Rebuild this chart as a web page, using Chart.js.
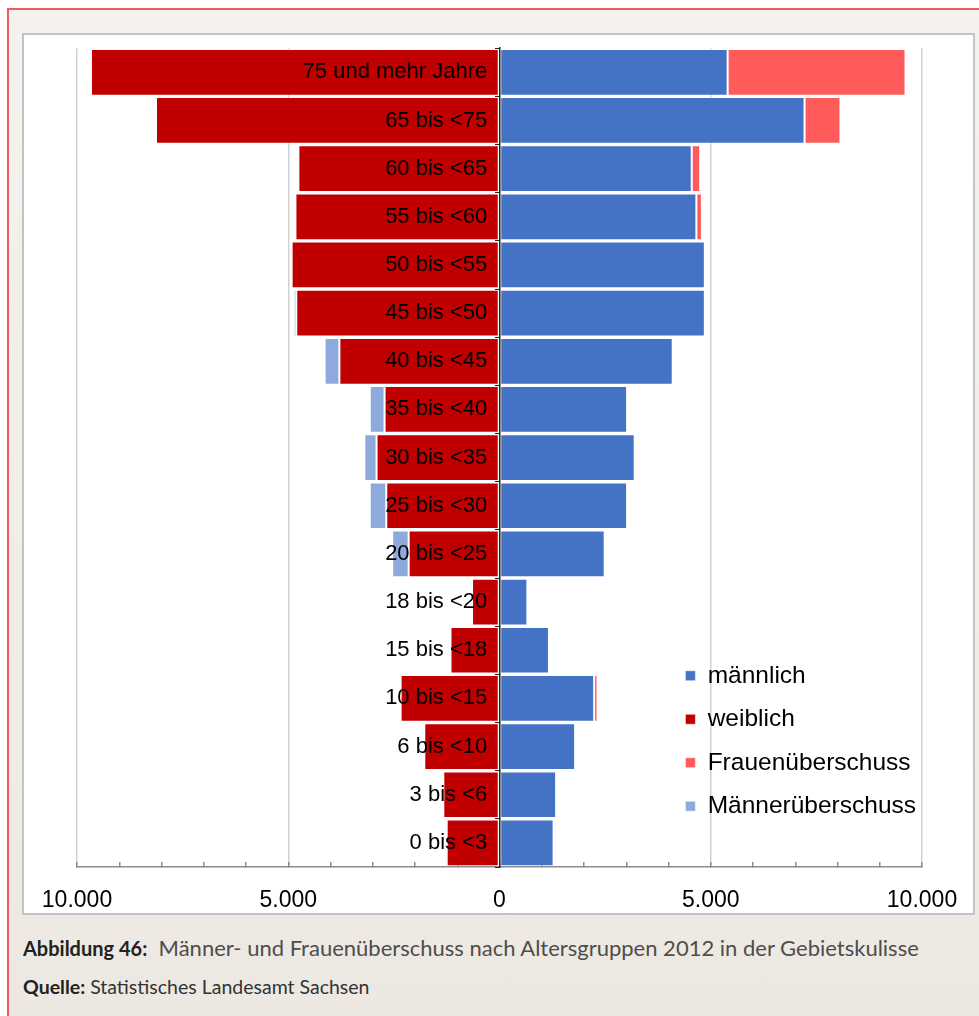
<!DOCTYPE html>
<html lang="de">
<head>
<meta charset="utf-8">
<title>Männer- und Frauenüberschuss 2012</title>
<script src="https://cdn.jsdelivr.net/npm/chart.js@4.4.1/dist/chart.umd.min.js"></script>
<style>
  html, body { margin: 0; padding: 0; }
  body {
    width: 979px; height: 1016px; overflow: hidden; position: relative;
    background: #ffffff;
  }
  .frame {
    position: absolute; left: 7px; top: 8px; width: 1000px; height: 1040px;
    border: 2px solid #f25a5a;
    background: linear-gradient(180deg, #f4f2ee 0%, #f0ede7 60%, #ece8e1 100%);
  }
  .box {
    position: absolute; left: 22px; top: 33px; width: 949px; height: 878px;
    border: 2px solid #c3c3c3; background: #fff;
  }
  .caption {
    position: absolute; left: 23px; top: 934px;
    font-family: Lato, "Open Sans", sans-serif; font-size: 22px; color: #4d4d4d;
    white-space: nowrap;
  }
  .caption b { color: #222; font-weight: 700; font-size: 20px; }
  .source {
    position: absolute; left: 23px; top: 975px;
    font-family: Lato, "Open Sans", sans-serif; font-size: 19.5px; color: #333;
    white-space: nowrap;
  }
  .source b { color: #222; font-weight: 700; font-size: 19.5px; }
</style>
</head>
<body>
<div class="frame"></div>
<div class="box"><canvas id="pyramide" width="949" height="878"></canvas></div>
<div class="caption"><b>Abbildung 46:</b>&nbsp; Männer- und Frauenüberschuss nach Altersgruppen 2012 in der Gebietskulisse</div>
<div class="source"><b>Quelle:</b> Statistisches Landesamt Sachsen</div>

<script>
// Altersgruppen (von oben nach unten)
const altersgruppen = ["75 und mehr Jahre", "65 bis <75", "60 bis <65", "55 bis <60", "50 bis <55",
    "45 bis <50", "40 bis <45", "35 bis <40", "30 bis <35", "25 bis <30", "20 bis <25",
    "18 bis <20", "15 bis <18", "10 bis <15", "6 bis <10", "3 bis <6", "0 bis <3"];

// Personen je Altersgruppe
const maennlich = [5400, 7220, 4550, 4660, 4860, 4860, 4100, 3020, 3200, 3020, 2490, 660, 1170, 2240, 1790, 1340, 1280];
const weiblich = [9670, 8130, 4760, 4830, 4920, 4810, 3790, 2720, 2910, 2680, 2150, 650, 1160, 2340, 1780, 1330, 1250];
const frauenueberschuss = [4210, 850, 200, 130, 0, 0, 0, 0, 0, 0, 0, 0, 0, 80, 0, 0, 0];
const maennerueberschuss = [0, 0, 0, 0, 0, 60, 350, 350, 290, 390, 390, 0, 40, 0, 0, 0, 50];

// Achse
const achseMin = -10000;
const achseMax = 10000;

const fmt = v => String(Math.abs(v)).replace(/\B(?=(\d{3})+(?!\d))/g, ".");

// Legende in die Diagrammfläche schieben (unten rechts)
const legendePlatz = {
    id: "legendePlatz",
    afterLayout(chart) {
        const lg = chart.legend;
        const pad = lg.options.labels.padding;
        lg.left = chart.scales.x.getPixelForValue(4400) - pad;
        lg.top = chart.chartArea.bottom - 252;
        lg.right = chart.chartArea.right;
        lg.bottom = chart.chartArea.bottom;
    }
};

const balken = {
    stack: "a",
    barPercentage: 0.97,
    categoryPercentage: 1.0,
    borderWidth: 1,
    borderSkipped: false,
    borderColor: "rgba(255,255,255,0.55)"
};

new Chart(document.getElementById("pyramide"), {
    type: "bar",
    data: {
        labels: altersgruppen,
        datasets: [
            Object.assign({ label: "männlich", data: maennlich, backgroundColor: "#4472c4" }, balken),
            Object.assign({ label: "weiblich", data: weiblich.map(v => -v), backgroundColor: "#c00000" }, balken),
            Object.assign({ label: "Frauenüberschuss", data: frauenueberschuss, backgroundColor: "#ff5b5b" }, balken),
            Object.assign({ label: "Männerüberschuss", data: maennerueberschuss.map(v => -v), backgroundColor: "#8eaadc" }, balken)
        ]
    },
    options: {
        indexAxis: "y",
        responsive: false,
        animation: false,
        layout: { padding: { left: 53, right: 51, top: 13, bottom: 2 } },
        scales: {
            x: {
                type: "linear",
                stacked: true,
                min: achseMin,
                max: achseMax,
                afterFit: scale => {
                    scale.height = 44;
                    scale.paddingLeft = 0;
                    scale.paddingRight = 0;
                },
                grid: {
                    color: ctx => (ctx.tick && ctx.tick.value % 5000 === 0 && ctx.tick.value !== 0) ? "#d2d2d2" : "rgba(0,0,0,0)",
                    tickColor: "#8c8c8c",
                    tickLength: -5,
                    lineWidth: 1.5
                },
                border: { color: "#8c8c8c", width: 1.5 },
                ticks: {
                    stepSize: 1000,
                    autoSkip: false,
                    maxRotation: 0,
                    padding: 25,
                    color: "#000",
                    font: { family: "'Liberation Sans', Arial, sans-serif", size: 23 },
                    callback: v => v % 5000 === 0 ? fmt(v) : ""
                }
            },
            y: {
                type: "category",
                stacked: true,
                position: { x: 0 },
                offset: true,
                grid: {
                    offset: true,
                    drawOnChartArea: false,
                    tickLength: 4,
                    tickColor: "#222",
                    z: 1
                },
                border: { color: "#222", width: 1.5, z: 1 },
                ticks: {
                    z: 1,
                    padding: 0,
                    color: "#000",
                    font: { family: "'Liberation Sans', Arial, sans-serif", size: 22 },
                    callback: function (v) { return this.getLabelForValue(v) + "  "; }
                }
            }
        },
        plugins: {
            tooltip: { enabled: false },
            legend: {
                position: "chartArea",
                labels: {
                    boxWidth: 10,
                    boxHeight: 10,
                    padding: 19,
                    color: "#000",
                    font: { family: "'Liberation Sans', Arial, sans-serif", size: 24.5 }
                }
            }
        }
    },
    plugins: [legendePlatz]
});
</script>
</body>
</html>
